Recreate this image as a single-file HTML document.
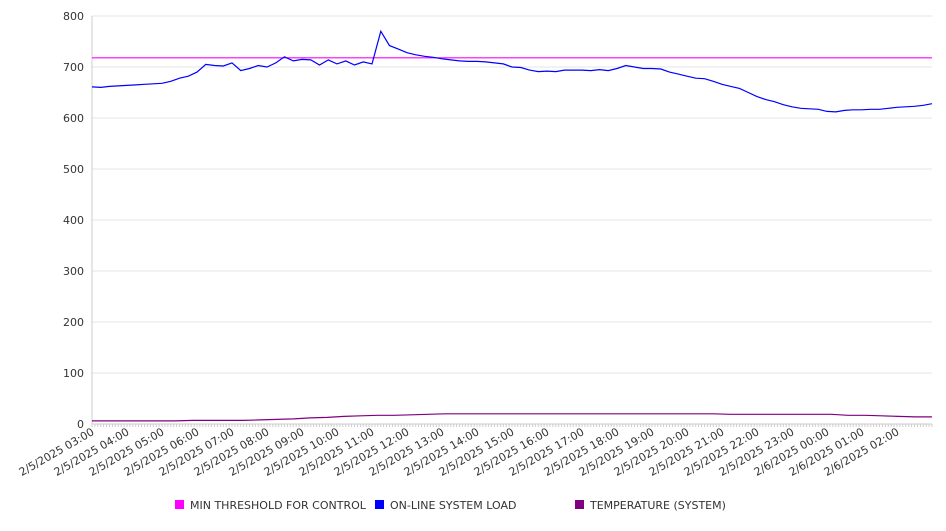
<!DOCTYPE html>
<html><head><meta charset="utf-8"><style>
body{margin:0;background:#fff;font-family:"Liberation Sans","DejaVu Sans",sans-serif;}
svg text{font-family:"DejaVu Sans","Liberation Sans",sans-serif;font-size:11px;fill:#333;}
</style></head><body>
<svg id="chart" width="946" height="526" xmlns="http://www.w3.org/2000/svg">
<g id="grid"></g>
<g id="axes"></g>
<g id="series"></g>
<g id="legend">
<rect x="175" y="500" width="9" height="9" fill="#ff00ff"/>
<text x="190" y="509">MIN THRESHOLD FOR CONTROL</text>
<rect x="375" y="500" width="9" height="9" fill="#0000ff"/>
<text x="390" y="509">ON-LINE SYSTEM LOAD</text>
<rect x="575" y="500" width="9" height="9" fill="#800080"/>
<text x="590" y="509">TEMPERATURE (SYSTEM)</text>
</g>
</svg>
<script>
const yTicks=[0,100,200,300,400,500,600,700,800];
const xLabels=["2/5/2025 03:00","2/5/2025 04:00","2/5/2025 05:00","2/5/2025 06:00","2/5/2025 07:00","2/5/2025 08:00","2/5/2025 09:00","2/5/2025 10:00","2/5/2025 11:00","2/5/2025 12:00","2/5/2025 13:00","2/5/2025 14:00","2/5/2025 15:00","2/5/2025 16:00","2/5/2025 17:00","2/5/2025 18:00","2/5/2025 19:00","2/5/2025 20:00","2/5/2025 21:00","2/5/2025 22:00","2/5/2025 23:00","2/6/2025 00:00","2/6/2025 01:00","2/6/2025 02:00"];
const threshold=718;
const loadValues=[661,660,662,663,664,665,666,667,668,672,678,682,690,705,703,702,708,693,697,703,700,708,720,712,715,714,704,714,706,712,704,710,706,770,742,735,728,724,721,719,716,714,712,711,711,710,708,706,700,699,694,691,692,691,694,694,694,693,695,693,697,703,700,697,697,696,690,686,682,678,677,672,666,662,658,650,642,636,632,626,622,619,618,617,613,612,615,616,616,617,617,619,621,622,623,625,628];
const tempValues=[6,6,6,6,6,6,7,7,7,7,8,9,10,12,13,15,16,17,17,18,19,20,20,20,20,20,20,20,20,20,20,20,20,20,20,20,20,20,19,19,19,19,19,19,19,17,17,16,15,14,14];
const X0=92,X1=932,Y0=424,Y1=16,H=24;
const sx=h=>X0+(X1-X0)*h/H, sy=v=>Y0-(Y0-Y1)*v/800;
const NS="http://www.w3.org/2000/svg";
function mk(t,a,p){const e=document.createElementNS(NS,t);for(const k in a)e.setAttribute(k,a[k]);p.appendChild(e);return e;}
const grid=document.getElementById('grid'),axes=document.getElementById('axes'),ser=document.getElementById('series');
yTicks.forEach(v=>{
 const l=mk('line',{x1:X0,x2:X1,y1:sy(v),y2:sy(v),stroke:'#e6e6e6'},grid);
 
 
 const t=mk('text',{x:84,y:sy(v)+4,'text-anchor':'end'},axes);t.textContent=v;
 
 
});
const ya=mk('line',{x1:X0,x2:X0,y1:Y1,y2:Y0,stroke:'#ccc'},axes);


const xa=mk('line',{x1:X0,x2:X1,y1:Y0,y2:Y0,stroke:'#ccc'},axes);


for(let i=0;i<=H*12;i++){const x=sx(i/12);const tk=mk('line',{x1:x,x2:x,y1:Y0,y2:Y0+3,stroke:'#ccc'},axes);
 
 }
xLabels.forEach((s,i)=>{const x=sx(i)+3,y=Y0+10;
 const t=mk('text',{x:x,y:y,'text-anchor':'end',transform:`rotate(-30 ${x} ${y})`},axes);t.textContent=s;
 
 });
const th=mk('line',{x1:X0,x2:X1,y1:sy(threshold),y2:sy(threshold),stroke:'#ff00ff','stroke-width':1.2},ser);


function path(vals,color,name){const n=vals.length-1;
 const d=vals.map((v,i)=>(i?'L':'M')+sx(i*H/n).toFixed(1)+','+sy(v).toFixed(1)).join('');
 const p=mk('path',{d:d,fill:'none',stroke:color,'stroke-width':1.2},ser);
 
 }
path(tempValues,'#800080','temperature-line');
path(loadValues,'#0000ff','system-load-line');
</script>
</body></html>
